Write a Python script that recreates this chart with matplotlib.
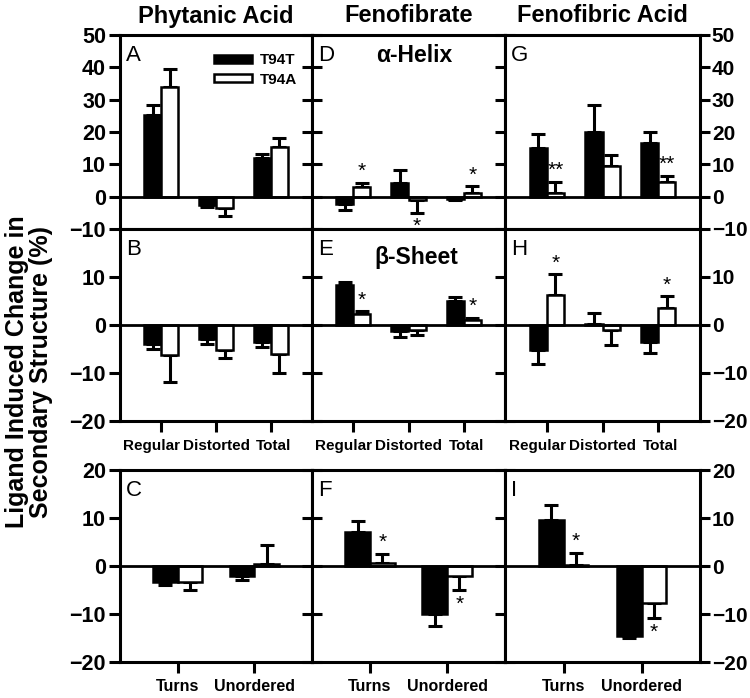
import matplotlib
matplotlib.use('Agg')
import matplotlib.pyplot as plt
import matplotlib.transforms as mtransforms
from matplotlib.patches import Patch
import numpy as np

plt.rcParams['font.family'] = ['Liberation Sans', 'DejaVu Sans']

# --- data ---
ligands = ['Phytanic Acid', 'Fenofibrate', 'Fenofibric Acid']
cats_top = ['Regular', 'Distorted', 'Total']
cats_bot = ['Turns', 'Unordered']
series = ['T94T', 'T94A']

# alpha-helix (panels A, D, G)
helix_t94t = [[25.4, -2.5, 12.0], [-2.3, 4.1, -0.7], [15.1, 19.9, 16.7]]
helix_t94t_err = [[2.9, 0.8, 1.3], [1.8, 4.3, 0.3], [4.2, 8.3, 3.4]]
helix_t94a = [[34.0, -3.5, 15.4], [3.1, -1.0, 1.2], [1.2, 9.6, 4.6]]
helix_t94a_err = [[5.4, 2.6, 2.8], [1.2, 4.0, 2.1], [3.4, 3.3, 1.9]]
helix_sig = [['', '', ''], ['*', '*', '*'], ['**', '', '**']]

# beta-sheet (panels B, E, H)
sheet_t94t = [[-4.0, -2.9, -3.6], [8.3, -1.3, 5.0], [-5.3, 0.3, -3.5]]
sheet_t94t_err = [[1.0, 1.1, 1.0], [0.7, 1.1, 0.8], [2.8, 2.1, 2.3]]
sheet_t94a = [[-6.2, -5.3, -6.0], [2.2, -1.0, 1.0], [6.2, -1.1, 3.6]]
sheet_t94a_err = [[5.6, 1.6, 4.1], [0.7, 1.1, 0.5], [4.4, 3.0, 2.4]]
sheet_sig = [['', '', ''], ['*', '', '*'], ['*', '', '*']]

# turns / unordered (panels C, F, I)
other_t94t = [[-3.4, -2.1], [7.0, -9.9], [9.5, -14.6]]
other_t94t_err = [[0.6, 0.8], [2.4, 2.7], [3.3, 0.4]]
other_t94a = [[-3.4, 0.5], [0.7, -2.1], [0.3, -7.8]]
other_t94a_err = [[1.6, 3.8], [1.9, 3.0], [2.5, 3.1]]
other_sig = [['', ''], ['*', '*'], ['*', '*']]

panel_letters = [['A', 'D', 'G'], ['B', 'E', 'H'], ['C', 'F', 'I']]

W, H = 750, 698
fig = plt.figure(figsize=(W / 100, H / 100), dpi=100)


def add_px_axes(left, top, right, bottom):
    return fig.add_axes([left / W, 1 - bottom / H, (right - left) / W, (bottom - top) / H])


col_edges = [(120, 312), (312, 505), (505, 700)]
row_edges = [(35, 229), (229, 421), (470, 662)]


def draw_panel(ax, cats, v1, e1, v2, e2, sig, width):
    x = np.arange(len(cats))
    ax.bar(x - width / 2, v1, width, color='black', edgecolor='black', lw=1.8, zorder=2)
    ax.bar(x + width / 2, v2, width, color='white', edgecolor='black', lw=1.8, zorder=2)
    for xs, v, e in ((x - width / 2, v1, e1), (x + width / 2, v2, e2)):
        v = np.asarray(v)
        e = np.asarray(e)
        lower = np.where(v < 0, e, 0)
        upper = np.where(v >= 0, e, 0)
        ax.errorbar(xs, v, yerr=[lower, upper], fmt='none', ecolor='black',
                    elinewidth=2.2, capsize=5, capthick=2.2, zorder=1)
    for i, s in enumerate(sig):
        if not s:
            continue
        if v2[i] >= 0:
            y = v2[i] + e2[i]
            off = 8
        else:
            y = v2[i] - e2[i]
            off = -10
        ax.annotate(s, (x[i] + width / 2, y), xytext=(0, off), textcoords='offset points',
                    ha='center', va='center', fontsize=15)
    ax.axhline(0, color='black', lw=2, zorder=3)
    ax.set_xlim(-0.75, len(cats) - 0.25)
    ax.set_xticks(x)
    for sp in ax.spines.values():
        sp.set_linewidth(2.2)


axes = [[None] * 3 for _ in range(3)]
for r in range(3):
    for c in range(3):
        l, rr = col_edges[c]
        t, b = row_edges[r]
        ax = add_px_axes(l, t, rr, b)
        axes[r][c] = ax
        if r == 0:
            draw_panel(ax, cats_top, helix_t94t[c], helix_t94t_err[c], helix_t94a[c],
                       helix_t94a_err[c], helix_sig[c], 0.31)
            ax.set_ylim(-10, 50)
            ax.set_yticks(np.arange(-10, 51, 10))
        elif r == 1:
            draw_panel(ax, cats_top, sheet_t94t[c], sheet_t94t_err[c], sheet_t94a[c],
                       sheet_t94a_err[c], sheet_sig[c], 0.31)
            ax.set_ylim(-20, 20)
            ax.set_yticks([-20, -10, 0, 10])
        else:
            draw_panel(ax, cats_bot, other_t94t[c], other_t94t_err[c], other_t94a[c],
                       other_t94a_err[c], other_sig[c], 0.32)
            ax.set_ylim(-20, 20)
            ax.set_yticks([-20, -10, 0, 10, 20])

        # y ticks
        if c == 0:
            ax.tick_params(axis='y', left=True, right=False, direction='out', length=8,
                           width=2.2, labelsize=15.5, pad=2)
        elif c == 1:
            ax.tick_params(axis='y', left=True, right=True, direction='inout', length=15,
                           width=2.2, labelleft=False)
        else:
            ax.tick_params(axis='y', left=False, right=True, direction='out', length=7,
                           width=2.2, labelsize=15, labelleft=False, labelright=True, pad=1.5)
        for lab in ax.get_yticklabels():
            lab.set_fontweight('bold')

        # x ticks
        ax.tick_params(axis='x', bottom=True, direction='out', length=8, width=2.2,
                       labelsize=11, pad=5, labelbottom=(r > 0))
        if r == 1:
            ax.set_xticklabels(cats_top, fontweight='bold')
            for lab, dx in zip(ax.get_xticklabels(), [-7, 0, 2]):
                lab.set_transform(lab.get_transform() +
                                  mtransforms.ScaledTranslation(dx / 72, 0, fig.dpi_scale_trans))
        elif r == 2:
            ax.set_xticklabels(cats_bot, fontweight='bold')
            ax.tick_params(axis='x', labelsize=11.5, pad=4)

        ax.text(0.03, 0.95, panel_letters[r][c], transform=ax.transAxes, ha='left', va='top',
                fontsize=16)

# in-panel labels
axes[0][1].text(0.53, 0.895, '\u03b1-Helix', transform=axes[0][1].transAxes, ha='center',
                va='center', fontsize=16.5, fontweight='bold')
axes[1][1].text(0.54, 0.85, '\u03b2-Sheet', transform=axes[1][1].transAxes, ha='center',
                va='center', fontsize=16.5, fontweight='bold')

# legend
handles = [Patch(facecolor='black', edgecolor='black', lw=1.8),
           Patch(facecolor='white', edgecolor='black', lw=1.8)]
axes[0][0].legend(handles, series, loc='upper left', bbox_to_anchor=(0.45, 0.945), frameon=False,
                  handlelength=2.5, handleheight=0.45, labelspacing=0.35, borderpad=0,
                  handletextpad=0.5, prop={'size': 11, 'weight': 'bold'})

# column titles
for c, name in enumerate(ligands):
    l, rr = col_edges[c]
    fig.text((l + rr) / 2 / W, 1 - 16 / H, name, ha='center', va='center', fontsize=17,
             fontweight='bold')

fig.text(29 / W, 1 - 372 / H, 'Ligand Induced Change in\nSecondary Structure (%)', rotation=90,
         ha='center', va='center', fontsize=18, fontweight='bold', linespacing=1.05)

fig.savefig('out.png', dpi=100)
